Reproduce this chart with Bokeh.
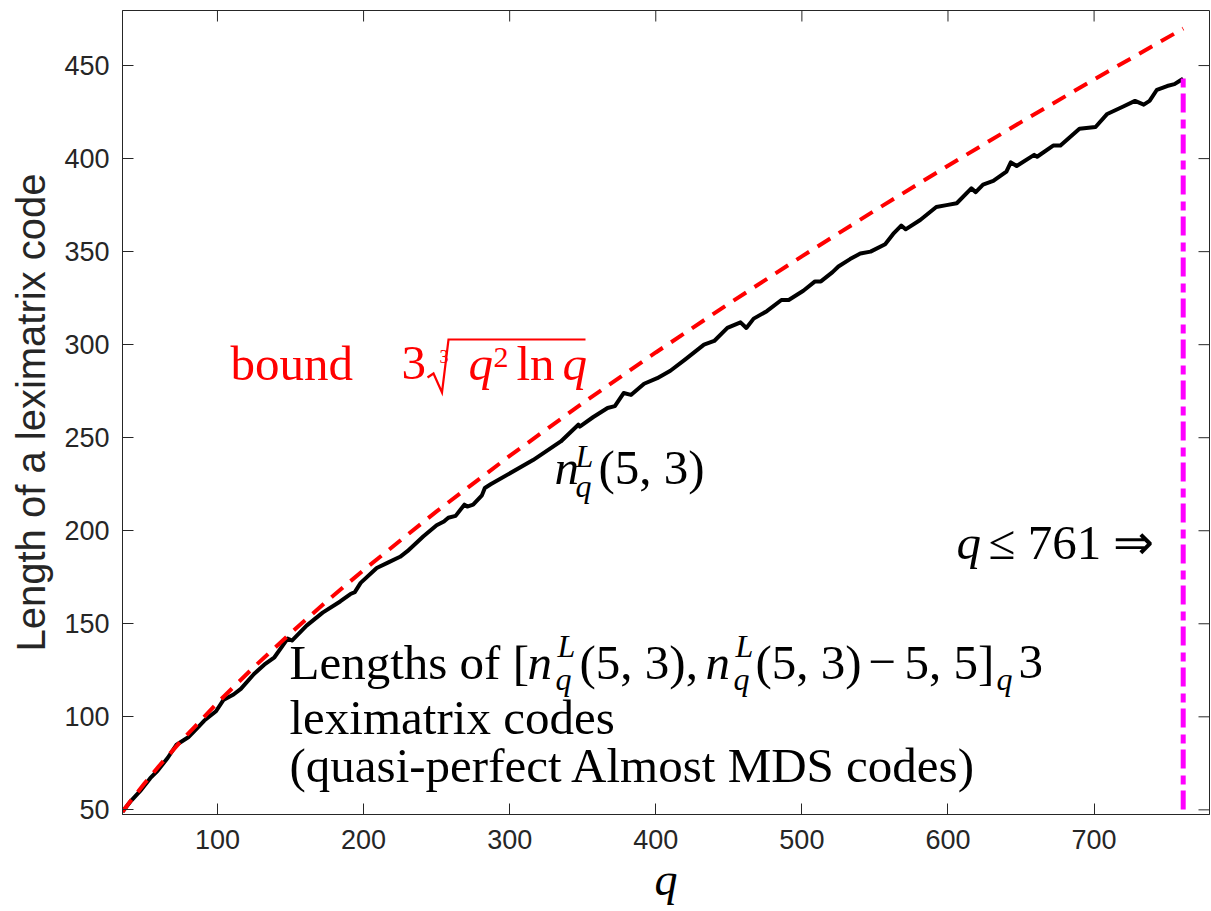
from bokeh.plotting import figure
from bokeh.models import Label, FixedTicker, Range1d
from bokeh.embed import file_html
from bokeh.resources import INLINE

# field sizes q (prime powers) and lengths n_q^L(5,3) of leximatrix codes
q_vals = [35, 41, 47, 54, 59, 66, 72, 80, 85, 91, 99, 104, 111, 116, 125, 132, 139, 148,
          151, 161, 172, 184, 191, 194, 198, 209, 217, 225, 230, 241, 250, 255, 258, 263,
          269, 271, 275, 281, 283, 287, 316, 335, 347, 348, 357, 367, 372, 378, 383, 392,
          401, 410, 420, 433, 440, 449, 458, 462, 467, 476, 486, 491, 501, 509, 513, 521,
          525, 533, 540, 547, 557, 563, 568, 571, 581, 592, 599, 606, 616, 619, 624, 631,
          640, 643, 647, 659, 661, 672, 677, 690, 701, 709, 720, 728, 734, 738, 743, 750,
          755, 759, 761]
n_vals = [49, 55, 60, 67, 71, 78, 85, 89, 93, 98, 103, 109, 112, 115, 123, 128, 132, 142,
          141, 149, 156, 162, 166, 167, 172, 180, 183, 186, 189, 197, 203, 205, 207, 208,
          214, 213, 214, 219, 223, 225, 238, 248, 257, 256, 261, 266, 267, 274, 273, 279,
          282, 286, 292, 300, 302, 309, 312, 309, 314, 318, 324, 324, 329, 334, 334, 339,
          342, 346, 349, 350, 354, 360, 364, 362, 367, 374, 375, 376, 384, 382, 386, 388,
          393, 398, 396, 402, 401, 407, 407, 416, 417, 424, 428, 431, 429, 431, 437, 439,
          440, 442, 443]

# upper bound 3 * cbrt(q^2 ln q), sampled
bound_q = [35, 40, 50, 60, 75, 100, 125, 150, 175, 200, 250, 300, 350, 400, 450, 500,
           550, 600, 650, 700, 761]
bound_n = [48.99, 54.22, 64.16, 73.56, 86.88, 107.53, 126.76, 144.93, 162.24, 178.86,
           210.43, 240.21, 268.58, 295.81, 322.05, 347.46, 372.14, 396.17, 419.62, 442.55,
           469.87]

q_limit = 761
x_ticks = [100, 200, 300, 400, 500, 600, 700]
y_ticks = [50, 100, 150, 200, 250, 300, 350, 400, 450]

X_LO, X_HI = 35, 779
Y_LO, Y_HI = 47.5, 479.6

AX = "#262626"
SERIF = "Liberation Serif"
SANS = "Liberation Sans"
TICK_LEN = 11

# frame edges in canvas pixels
FL, FR, FT, FB = 122, 1209, 10, 814
X_PER_PX = (X_HI - X_LO) / (FR - FL)
Y_PER_PX = (Y_HI - Y_LO) / (FB - FT)

p = figure(width=1211, height=911,
           x_range=Range1d(X_LO, X_HI), y_range=Range1d(Y_LO, Y_HI),
           output_backend="svg", toolbar_location=None,
           min_border_left=FL, min_border_right=1211 - FR,
           min_border_top=FT, min_border_bottom=911 - FB)
p.grid.visible = False
p.outline_line_color = AX
p.outline_line_width = 1
p.background_fill_color = "white"
p.border_fill_color = "white"


def style_axis(ax, ticks):
    ax.ticker = FixedTicker(ticks=ticks, minor_ticks=[])
    ax.major_tick_in = TICK_LEN
    ax.major_tick_out = 0
    ax.minor_tick_in = 0
    ax.minor_tick_out = 0
    ax.axis_line_color = AX
    ax.major_tick_line_color = AX
    ax.major_label_text_font = SANS
    ax.major_label_text_color = AX
    ax.major_label_text_font_size = "27px"


xa = p.xaxis[0]
ya = p.yaxis[0]
style_axis(xa, x_ticks)
style_axis(ya, y_ticks)
xa.major_label_standoff = 15
ya.major_label_standoff = 13

xa.axis_label = "q"
xa.axis_label_text_font = SERIF
xa.axis_label_text_font_style = "italic"
xa.axis_label_text_font_size = "46px"
xa.axis_label_text_color = "black"
xa.axis_label_standoff = 2

ya.axis_label = "Length of a leximatrix code"
ya.axis_label_text_font = SANS
ya.axis_label_text_font_style = "normal"
ya.axis_label_text_font_size = "40px"
ya.axis_label_text_color = AX
ya.axis_label_standoff = 8

# inward ticks along the top and right edges of the box
p.segment(x0=x_ticks, y0=[Y_HI] * len(x_ticks),
          x1=x_ticks, y1=[Y_HI - TICK_LEN * Y_PER_PX] * len(x_ticks),
          line_color=AX, line_width=1)
p.segment(x0=[X_HI] * len(y_ticks), y0=y_ticks,
          x1=[X_HI - TICK_LEN * X_PER_PX] * len(y_ticks), y1=y_ticks,
          line_color=AX, line_width=1)

# curves
p.line(q_vals, n_vals, line_color="black", line_width=4, line_join="round")
p.line(bound_q, bound_n, line_color="#ff0000", line_width=4, line_dash="15 10")
p.segment(x0=[q_limit], y0=[n_vals[-1]], x1=[q_limit], y1=[Y_LO],
          line_color="#ff00ff", line_width=5, line_dash="9 6 19 7")


def at_x(px):
    return X_LO + (px - FL) * X_PER_PX


def at_y(py):
    return Y_LO + (FB - py) * Y_PER_PX


def put(text, px, py, size=49, style="normal", color="black", align="left"):
    # py is the wanted baseline; the renderer sets text about 0.37 em low
    base = py - 0.37 * size
    p.add_layout(Label(x=at_x(px), y=at_y(base), text=text,
                       text_font=SERIF, text_font_size=f"{size}px",
                       text_font_style=style, text_color=color,
                       text_align=align, text_baseline="alphabetic"))


RED = "#ff0000"
# bound formula
put("bound", 230, 381, color=RED)
put("3", 401, 381, color=RED)
put("3", 439, 363, size=18, color=RED)
p.line([at_x(v) for v in (427, 433, 441.5, 448, 585)],
       [at_y(v) for v in (377, 373, 392, 339, 339)],
       line_color=RED, line_width=2.2, line_join="miter")
put("q", 468, 381, style="italic", color=RED)
put("2", 493, 368, size=30, color=RED)
put("ln", 516, 381, color=RED)
put("q", 562, 381, style="italic", color=RED)

# curve label n_q^L(5,3)
put("n", 554, 485, style="italic")
put("L", 575, 467, size=32, style="italic")
put("q", 575, 497, size=32, style="italic")
put("(5, 3)", 598, 485)

# description block
put("Lengths of [", 289, 680)
put("n", 527, 680, style="italic")
put("L", 557, 657, size=32, style="italic")
put("q", 555, 690, size=32, style="italic")
put("(5, 3),", 579, 680)
put("n", 705, 680, style="italic")
put("L", 735, 657, size=32, style="italic")
put("q", 733, 690, size=32, style="italic")
put("(5, 3)", 755, 680)
put("\u2212", 868, 680)
put("5, 5]", 904, 680)
put("q", 996, 690, size=32, style="italic")
put("3", 1018, 680)
put("leximatrix codes", 289, 735)
put("(quasi-perfect Almost MDS codes)", 289, 783)

# limit marker text
put("q", 956, 560, style="italic")
put("\u2264 761 \u21d2", 988, 560)

open("out.html", "w").write(file_html(p, INLINE))
